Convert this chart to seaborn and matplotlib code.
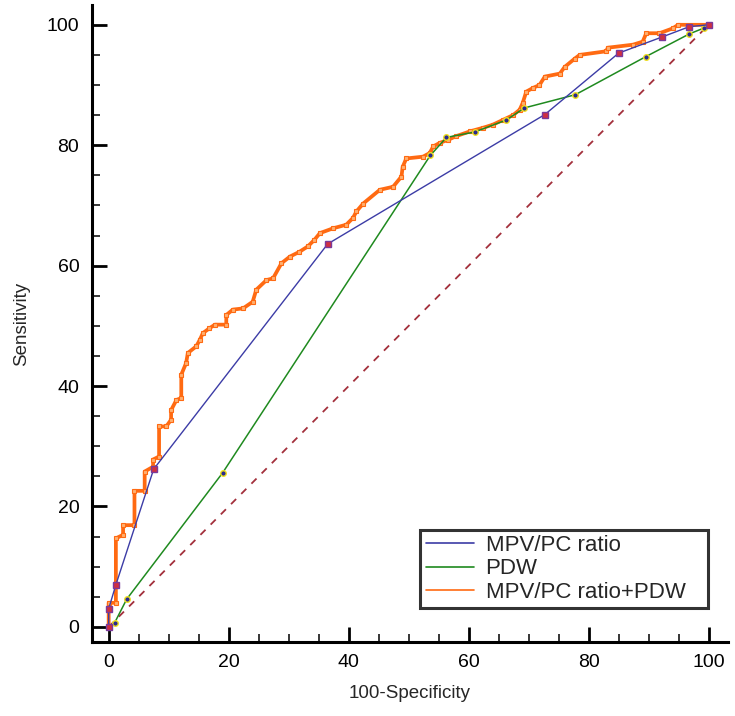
import matplotlib
matplotlib.use("Agg")
import matplotlib.pyplot as plt
import seaborn as sns
import pandas as pd
from matplotlib.lines import Line2D
from matplotlib.ticker import MultipleLocator

sns.set_style("ticks")
plt.rcParams['font.family'] = ['Liberation Sans', 'DejaVu Sans']

# ROC points (100-Specificity, Sensitivity)
mpv_x = [0, 0, 1.2, 7.5, 36.5, 72.7, 85.0, 92.3, 96.8, 100]
mpv_y = [0, 3, 7.0, 26.2, 63.6, 85.1, 95.3, 98.0, 99.7, 100]

pdw_x = [0, 1.0, 3.0, 19.0, 53.6, 56.3, 61.0, 66.3, 69.3, 77.8, 89.5, 96.8, 99.3, 100]
pdw_y = [0, 0.7, 4.6, 25.6, 78.3, 81.3, 82.2, 84.2, 86.2, 88.4, 94.7, 98.5, 99.5, 100]

comb_x = [0, 0, 1.2, 1.2, 2.4, 2.4, 4.3, 4.3, 6.0, 6.0, 7.4, 7.4, 8.4, 8.4, 9.6, 10.4,
          10.4, 11.3, 12.1, 12.1, 12.9, 13.2, 14.6, 15.2, 15.7, 16.8, 17.7, 19.6, 19.6,
          20.7, 22.4, 24.0, 24.6, 26.3, 27.4, 28.8, 30.2, 31.8, 33.2, 34.3, 35.2, 37.4,
          39.6, 40.7, 41.3, 42.4, 45.2, 47.4, 48.8, 49.0, 49.6, 52.4, 53.5, 54.1, 55.2,
          56.6, 57.9, 60.2, 62.4, 64.0, 65.7, 67.4, 68.5, 69.0, 69.6, 70.7, 71.8, 72.7,
          75.2, 76.0, 77.7, 78.5, 82.9, 83.2, 87.4, 89.0, 89.6, 91.8, 94.0, 94.9, 100]
comb_y = [0, 4.0, 4.0, 14.7, 15.3, 16.9, 16.9, 22.6, 22.6, 25.8, 26.6, 27.8, 28.3, 33.3,
          33.3, 34.4, 36.0, 37.7, 38.0, 41.9, 43.8, 45.5, 46.6, 47.7, 48.8, 49.6, 50.2,
          50.2, 51.8, 52.7, 52.9, 54.0, 56.0, 57.6, 57.9, 60.4, 61.5, 62.3, 63.2, 64.3,
          65.4, 66.2, 66.8, 67.9, 69.0, 70.3, 72.6, 73.1, 74.8, 76.4, 77.8, 78.1, 78.7,
          79.8, 80.4, 80.9, 81.5, 82.3, 82.9, 83.4, 84.2, 85.0, 85.9, 87.0, 88.9, 89.5,
          90.0, 91.4, 91.9, 93.0, 94.4, 95.0, 95.6, 96.2, 96.7, 97.2, 98.6, 98.6, 99.4,
          100, 100]

diag = [0, 100]

series_names = ['MPV/PC ratio', 'PDW', 'MPV/PC ratio+PDW']
c_blue, c_green, c_orange, c_diag = '#3c3ca6', '#1f8a1f', '#ff6a12', '#a3303c'

mpv_df = pd.DataFrame({'x': mpv_x, 'y': mpv_y})
pdw_df = pd.DataFrame({'x': pdw_x, 'y': pdw_y})
comb_df = pd.DataFrame({'x': comb_x, 'y': comb_y})
diag_df = pd.DataFrame({'x': diag, 'y': diag})

fig = plt.figure(figsize=(7.35, 7.16), dpi=100)
ax = fig.add_axes([0.125, 0.1034, 0.8653, 0.8897])

sns.lineplot(data=diag_df, x='x', y='y', ax=ax, color=c_diag, lw=1.3,
             linestyle=(0, (4, 4)), estimator=None, sort=False)
sns.lineplot(data=comb_df, x='x', y='y', ax=ax, color=c_orange, lw=2.7,
             marker='s', markersize=2.5, markerfacecolor='#ffb070',
             markeredgecolor=c_orange, markeredgewidth=0.8, estimator=None, sort=False)
sns.lineplot(data=pdw_df, x='x', y='y', ax=ax, color=c_green, lw=1.1,
             marker='o', markersize=4, markerfacecolor='#2a2a90',
             markeredgecolor='#f0e020', markeredgewidth=1, estimator=None, sort=False)
sns.lineplot(data=mpv_df, x='x', y='y', ax=ax, color=c_blue, lw=1.0,
             marker='s', markersize=4, markerfacecolor='#d03040',
             markeredgecolor='#7a3a9a', markeredgewidth=1, estimator=None, sort=False)

ax.set_xlim(-2.8, 103.2)
ax.set_ylim(-2.5, 103.3)
ax.xaxis.set_major_locator(MultipleLocator(20))
ax.yaxis.set_major_locator(MultipleLocator(20))
ax.xaxis.set_minor_locator(MultipleLocator(5))
ax.yaxis.set_minor_locator(MultipleLocator(5))
ax.tick_params(which='major', direction='in', length=11, width=2, labelsize=14,
               pad=9, colors='black')
ax.tick_params(which='minor', direction='in', length=5.5, width=1.3)
sns.despine(ax=ax)
for side in ['left', 'bottom']:
    ax.spines[side].set_linewidth(2.2)
    ax.spines[side].set_color('black')

ax.set_xlabel('100-Specificity', fontsize=13.5, labelpad=10)
ax.set_ylabel('Sensitivity', fontsize=13.5, labelpad=12)

handles = [Line2D([0], [0], color=c, lw=1.2) for c in [c_blue, c_green, c_orange]]
leg = ax.legend(handles, series_names, loc='lower left',
                bbox_to_anchor=(0.516, 0.053, 0.453, 0.15), mode='expand',
                fontsize=16, frameon=True, fancybox=False, handlelength=2.2,
                handletextpad=0.5, borderpad=0.25, labelspacing=0.1,
                borderaxespad=0)
leg.get_frame().set_edgecolor('black')
leg.get_frame().set_linewidth(2.2)

fig.savefig('out.png', dpi=100)
